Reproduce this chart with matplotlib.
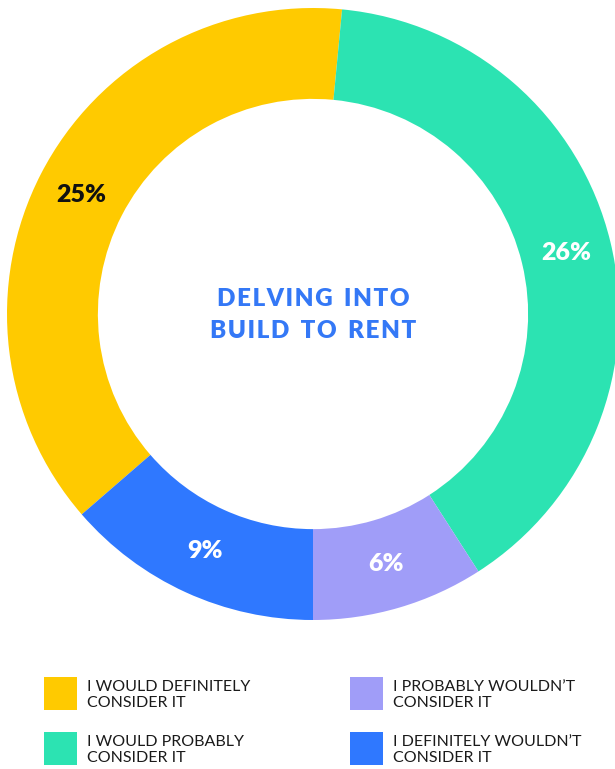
import matplotlib
matplotlib.use('Agg')
import matplotlib.pyplot as plt
from matplotlib.patches import Rectangle
import numpy as np

# data
labels = ["I WOULD DEFINITELY\nCONSIDER IT", "I WOULD PROBABLY\nCONSIDER IT",
          "I PROBABLY WOULDN\u2019T\nCONSIDER IT", "I DEFINITELY WOULDN\u2019T\nCONSIDER IT"]
values = [25, 26, 6, 9]
pct_text = ["25%", "26%", "6%", "9%"]
colors = ["#FFCA00", "#2CE3B2", "#A09DF8", "#2F78FF"]
txt_colors = ["#111111", "white", "white", "white"]

plt.rcParams['font.family'] = ['Lato', 'DejaVu Sans']

W, H = 615, 769
fig = plt.figure(figsize=(W / 100, H / 100), dpi=100)

# donut: centre (313, 314) px, outer radius 306 px
cx, cy, r = 313, 314, 306
ax = fig.add_axes([(cx - r) / W, (H - cy - r) / H, 2 * r / W, 2 * r / H])
start = -90 - 360 * values[3] / sum(values)  # yellow starts right after blue
wedges, _ = ax.pie(values, colors=colors, startangle=start, counterclock=False,
                   radius=1.0, wedgeprops=dict(width=0.297, linewidth=0))
for w in wedges:
    w.set_clip_on(False)
ax.set_xlim(-1, 1)
ax.set_ylim(-1, 1)
ax.set_aspect('equal')
ax.axis('off')

for w, t, c in zip(wedges, pct_text, txt_colors):
    ang = np.deg2rad((w.theta1 + w.theta2) / 2)
    ax.text(0.851 * np.cos(ang), 0.851 * np.sin(ang), t, ha='center', va='center',
            fontsize=18, fontweight='heavy', color=c)

def spaced(s):
    return "\u200a".join(s).replace("\u200a \u200a", "  ")

ax.text(0, 0.048, spaced("DELVING INTO"), ha='center', va='center',
        fontsize=17.5, fontweight='heavy', color='#3478F6')
ax.text(0, -0.057, spaced("BUILD TO RENT"), ha='center', va='center',
        fontsize=17.5, fontweight='heavy', color='#3478F6')

# legend
lg = fig.add_axes([0, 0, 1, 1])
lg.set_xlim(0, W)
lg.set_ylim(H, 0)
lg.axis('off')
pos = [(44, 677), (44, 732), (350, 677), (350, 732)]
for (x, y), lab, c in zip(pos, labels, colors):
    lg.add_patch(Rectangle((x, y), 33, 33, color=c, linewidth=0))
    lg.text(x + 43, y + 18, lab, ha='left', va='center', fontsize=11.5,
            fontweight='normal', color='#1a1a1a', linespacing=1.1)

fig.savefig('out.png', dpi=100)
